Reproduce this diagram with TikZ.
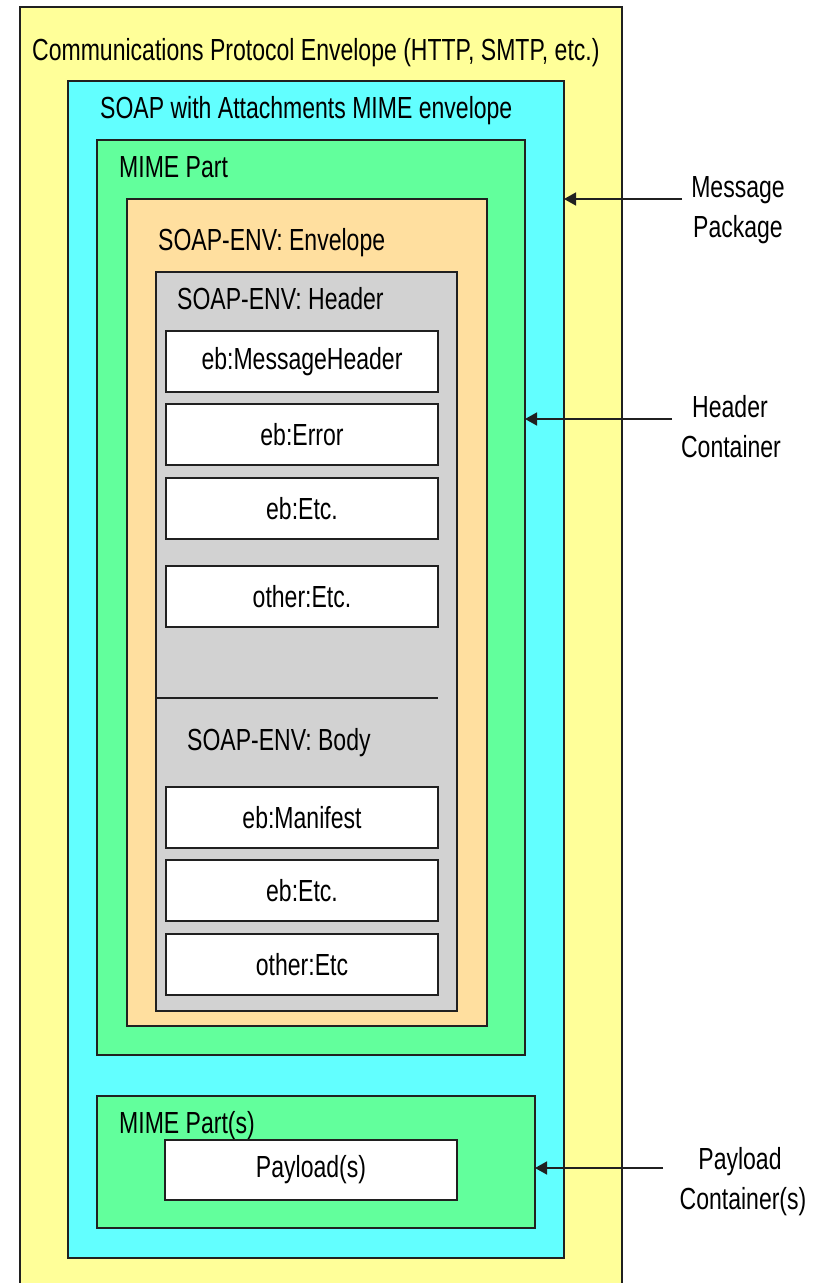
\documentclass[tikz,border=0pt]{standalone}
\usepackage{fontspec}
\setmainfont{Liberation Sans}
\usetikzlibrary{arrows.meta}
\definecolor{cyellow}{HTML}{FFFF99}
\definecolor{ccyan}{HTML}{62FFFF}
\definecolor{cgreen}{HTML}{62FF9C}
\definecolor{corange}{HTML}{FFDF9F}
\definecolor{cgray}{HTML}{D2D2D2}
\definecolor{cline}{HTML}{202020}
\newcommand{\nt}[1]{\scalebox{0.755}[1]{#1}}
\begin{document}
\begin{tikzpicture}[x=1pt,y=-1pt,
  box/.style={draw=cline,line width=1.4pt,anchor=north west,inner sep=0pt,outer sep=0pt},
  lbl/.style={anchor=base west,inner sep=0pt,font=\fontsize{30.5}{36}\selectfont},
  itm/.style={box,fill=white,minimum width=272pt,minimum height=61pt,font=\fontsize{30.5}{36}\selectfont},
  side/.style={inner sep=0pt,anchor=base,font=\fontsize{30.5}{36}\selectfont},
  arr/.style={-{Triangle[length=12pt,width=13pt]},line width=1.5pt,draw=cline}]
\path[use as bounding box] (0,0) rectangle (823,1283);
\clip (0,0) rectangle (823,1283);
% nested containers
\node[box,fill=cyellow,minimum width=602pt,minimum height=1300pt] (yellow) at (20,7) {};
\node[box,fill=ccyan,minimum width=496pt,minimum height=1177pt] (cyan) at (68,81) {};
\node[box,fill=cgreen,minimum width=428pt,minimum height=915pt] (mime) at (97,140) {};
\node[box,fill=corange,minimum width=360pt,minimum height=827pt] (env) at (127,199) {};
\node[box,fill=cgray,minimum width=301pt,minimum height=739pt] (hdr) at (156,272) {};
\node[box,fill=cgreen,minimum width=438pt,minimum height=132pt] (mimes) at (97,1096) {};
% titles
\node[lbl] (tyellow) at (32,60) {\nt{Communications Protocol Envelope (HTTP, SMTP, etc.)}};
\node[lbl] (tcyan) at (100,118) {\nt{SOAP with Attachments MIME envelope}};
\node[lbl] (tmime) at (119,177) {\nt{MIME Part}};
\node[lbl] (tenv) at (158,250) {\nt{SOAP-ENV: Envelope}};
\node[lbl] (thdr) at (177,309) {\nt{SOAP-ENV: Header}};
\node[lbl] (tbody) at (187,750) {\nt{SOAP-ENV: Body}};
\node[lbl] (tmimes) at (119,1133) {\nt{MIME Part(s)}};
% separator between header and body
\coordinate (sepl) at (156,698);
\coordinate (sepr) at (438,698);
\draw[cline,line width=1.4pt] (sepl) -- (sepr);
% header items
\node[itm] (i1) at (166,331) {\nt{eb:MessageHeader}};
\node[itm] (i2) at (166,404) {\nt{eb:Error}};
\node[itm] (i3) at (166,478) {\nt{eb:Etc.}};
\node[itm] (i4) at (166,566) {\nt{other:Etc.}};
% body items
\node[itm] (b1) at (166,787) {\nt{eb:Manifest}};
\node[itm] (b2) at (166,860) {\nt{eb:Etc.}};
\node[itm] (b3) at (166,934) {\nt{other:Etc}};
% payload
\node[itm,minimum width=292pt,minimum height=60pt] (pay) at (165,1140) {\nt{Payload(s)}};
% side labels
\node[side] (s1a) at (738,197) {\nt{Message}};
\node[side] (s1b) at (738,237) {\nt{Package}};
\node[side] (s2a) at (730,417) {\nt{Header}};
\node[side] (s2b) at (731,457) {\nt{Container}};
\node[side] (s3a) at (740,1169) {\nt{Payload}};
\node[side] (s3b) at (743,1209) {\nt{Container(s)}};
% arrows
\coordinate (t1) at (682,199);
\coordinate (t2) at (672,419);
\coordinate (t3) at (663,1168);
\draw[arr] (t1) -- (cyan.east |- t1);
\draw[arr] (t2) -- (mime.east |- t2);
\draw[arr] (t3) -- (mimes.east |- t3);
\end{tikzpicture}
\end{document}
